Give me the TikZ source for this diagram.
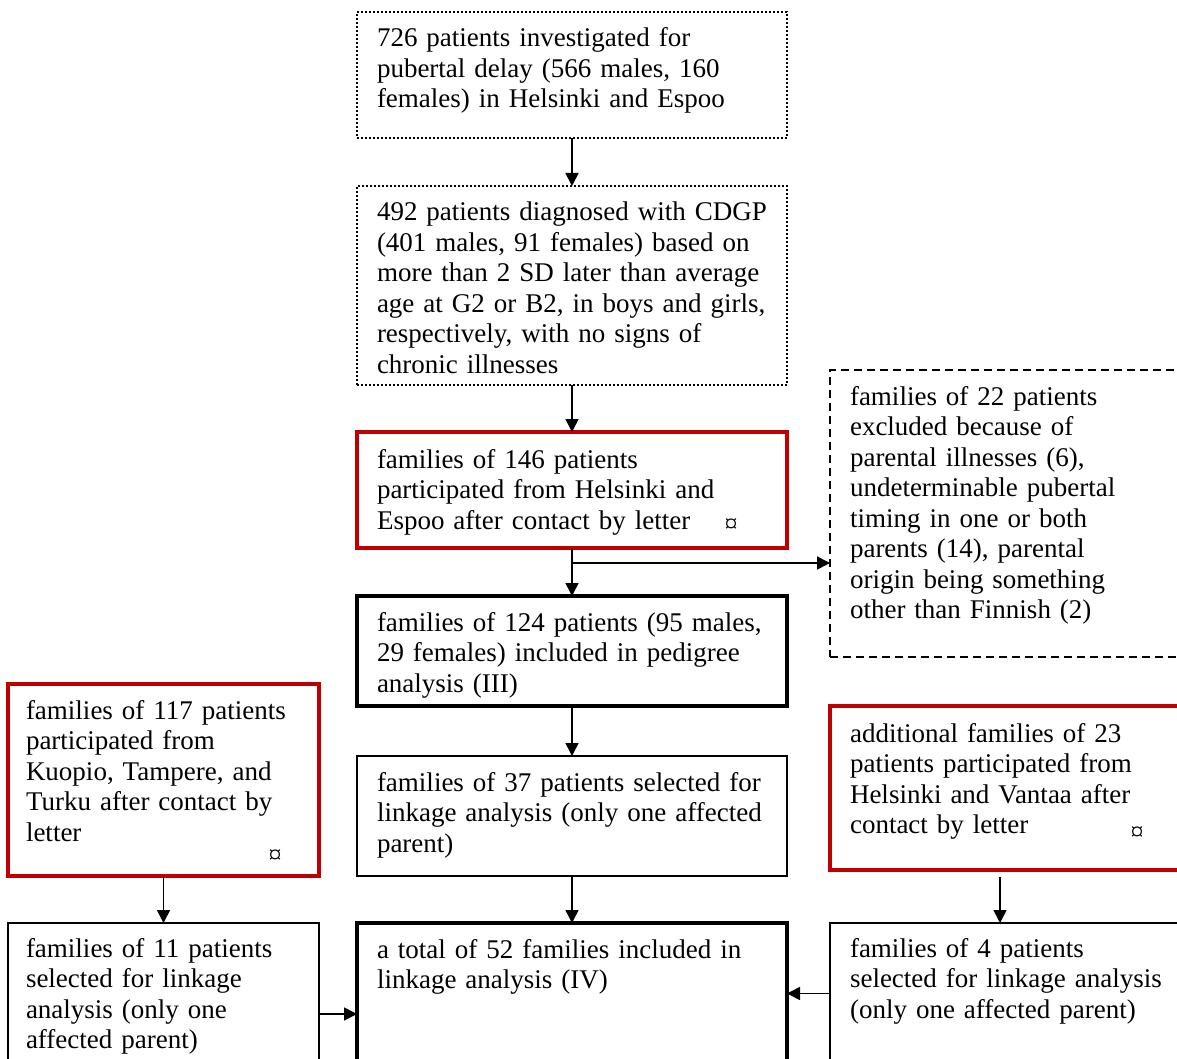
\documentclass[tikz,border=0pt]{standalone}
\usepackage{fontspec}
\setmainfont{Liberation Serif}
\usetikzlibrary{arrows.meta}
\definecolor{boxred}{RGB}{192,0,0}

\begin{document}
\begin{tikzpicture}[
  x=1pt, y=-1pt,
  box/.style={draw,anchor=north west,inner ysep=0pt,inner xsep=4pt,outer sep=0pt,line width=1.5pt,font=\fontsize{27}{30.5}\selectfont,
    execute at begin node={\raggedright\leftskip=16pt\relax}},
  sidebox/.style={box,execute at begin node={\raggedright\leftskip=14pt\relax}},
  dotbox/.style={box,line width=2pt,dash pattern=on 2pt off 2pt},
  dashbox/.style={box,dash pattern=on 8pt off 5pt},
  redbox/.style={draw=boxred,line width=3.5pt},
  thickbox/.style={box,line width=4pt},
  cur/.style={inner sep=0pt,font=\fontsize{26}{26}\selectfont},
  arr/.style={line width=1.6pt,-{Triangle[length=13pt,width=13pt]}}
]
  \clip (0,0) rectangle (1177,1059);
  % middle column
  \node[dotbox,text width=422pt,text height=35pt,text depth=91pt] (inv) at (357,12)
    {726 patients investigated for\\pubertal delay (566 males, 160\\females) in Helsinki and Espoo};
  \node[dotbox,text width=422pt,text height=35pt,text depth=164pt] (diag) at (357,186)
    {492 patients diagnosed with CDGP\\(401 males, 91 females) based on\\more than 2 SD later than average\\age at G2 or B2, in boys and girls,\\respectively, with no signs of\\chronic illnesses};
  \node[box,redbox,text width=422pt,text height=36pt,text depth=80pt] (part) at (357,432)
    {families of 146 patients\\participated from Helsinki and\\Espoo after contact by letter};
  \node[thickbox,text width=422pt,text height=35pt,text depth=75pt] (ped) at (357,596)
    {families of 124 patients (95 males,\\29 females) included in pedigree\\analysis (III)};
  \node[box,text width=422pt,text height=35pt,text depth=85pt] (link) at (357,756)
    {families of 37 patients selected for\\linkage analysis (only one affected\\parent)};
  \node[thickbox,text width=422pt,text height=35pt,text depth=142pt] (total) at (357,923)
    {a total of 52 families included in\\linkage analysis (IV)};
  % side boxes
  \node[dashbox,text width=352pt,text height=35pt,text depth=252pt] (excl) at (830,370)
    {families of 22 patients\\excluded because of\\parental illnesses (6),\\undeterminable pubertal\\timing in one or both\\parents (14), parental\\origin being something\\other than Finnish (2)};
  \node[sidebox,redbox,text width=303pt,text height=35pt,text depth=157pt] (kuo) at (8,684)
    {families of 117 patients\\participated from\\Kuopio, Tampere, and\\Turku after contact by\\letter};
  \node[sidebox,text width=303pt,text height=34pt,text depth=136pt] (kuosel) at (8,923)
    {families of 11 patients\\selected for linkage\\analysis (only one\\affected parent)};
  \node[box,redbox,text width=352pt,text height=36pt,text depth=128pt] (van) at (830,706)
    {additional families of 23\\patients participated from\\Helsinki and Vantaa after\\contact by letter};
  \node[box,text width=352pt,text height=34pt,text depth=107pt] (vansel) at (830,923)
    {families of 4 patients\\selected for linkage analysis\\(only one affected parent)};
  \node[cur] (c1) at (731,526) {¤};
  \node[cur] (c2) at (275,857) {¤};
  \node[cur] (c3) at (1137,834) {¤};
  % connectors
  \coordinate (br) at (572,563);
  \draw[arr] (inv) -- (diag);
  \draw[arr] (diag) -- (part);
  \draw[arr] (part) -- (ped);
  \draw[arr] (br) -- (br -| excl.west);
  \draw[arr] (ped) -- (link);
  \draw[arr] (link) -- (total);
  \draw[arr] (kuo) -- (kuosel);
  \draw[arr,shorten <=7pt] ([xshift=-10pt]van.south) -- ([xshift=-10pt]vansel.north);
  \draw[arr] ([yshift=-6pt]kuosel.east) -- ([yshift=-6pt]kuosel.east -| total.west);
  \draw[arr] (vansel.east -| vansel.west) -- (vansel.west -| total.east);
\end{tikzpicture}
\end{document}
